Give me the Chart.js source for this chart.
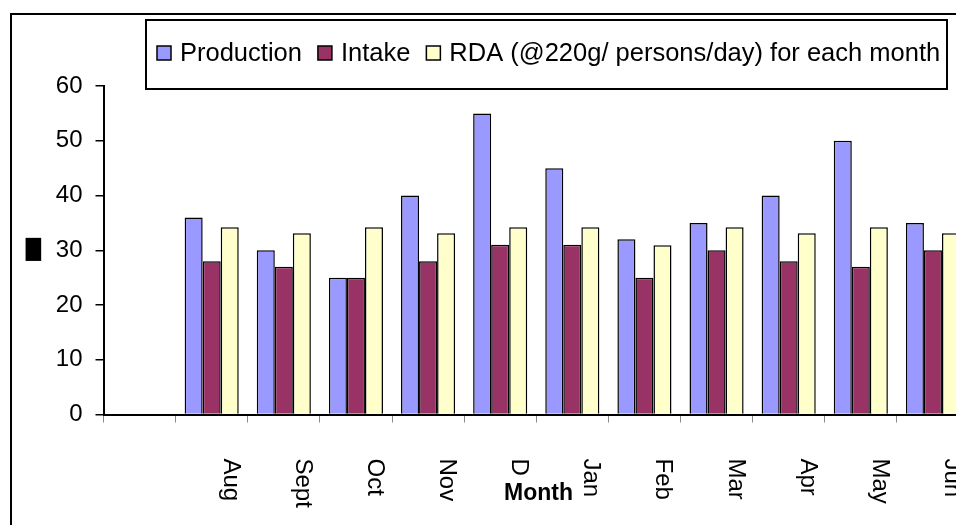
<!DOCTYPE html>
<html><head><meta charset="utf-8">
<script src="https://cdn.jsdelivr.net/npm/chart.js@4"></script>
<style>
html,body{margin:0;padding:0;overflow:hidden;background:#fff;width:956px;height:525px}
canvas{display:block}
</style></head>
<body><canvas id="c" width="1000" height="525"></canvas>
<script>
const categories = ['', 'Aug', 'Sept', 'Oct', 'Nov', 'Dec', 'Jan', 'Feb', 'Mar', 'Apr', 'May', 'Jun'];
const production = [null, 36, 30, 25, 40, 55, 45, 32, 35, 40, 50, 35];
const intake     = [null, 28, 27, 25, 28, 31, 31, 25, 30, 28, 27, 30];
const rda        = [null, 34.2, 33.1, 34.2, 33.1, 34.2, 34.2, 30.9, 34.2, 33.1, 34.2, 33.1];
const seriesNames = ['Production', 'Intake', 'RDA (@220g/ persons/day) for each month'];
const yTicks = [0, 10, 20, 30, 40, 50, 60];
const xTitle = 'Month';
const yTitle = '\u2588';

const FONT = "'Liberation Sans', Arial, sans-serif";

const decorPlugin = {
  id: 'decor',
  afterDraw(chart) {
    const ctx = chart.ctx;
    const xs = chart.scales.x;
    ctx.save();
    // outer frame
    ctx.strokeStyle = '#000';
    ctx.lineWidth = 2;
    ctx.strokeRect(11, 14, 1100, 600);

    // legend box
    ctx.strokeRect(146, 20, 801, 69);
    ctx.font = '25.5px ' + FONT;
    ctx.textBaseline = 'alphabetic';
    ctx.textAlign = 'left';
    let x = 157;
    chart.data.datasets.forEach(ds => {
      ctx.fillStyle = ds.backgroundColor;
      ctx.fillRect(x, 46, 14, 14);
      ctx.lineWidth = 1.5;
      ctx.strokeStyle = '#000';
      ctx.strokeRect(x, 46, 14, 14);
      ctx.fillStyle = '#000';
      ctx.fillText(ds.label, x + 23, 60.5);
      x += 23 + ctx.measureText(ds.label).width + 16;
    });

    // y-axis title (block glyph)
    ctx.font = '30px DejaVu Sans';
    const m = ctx.measureText(yTitle);
    const gw = m.actualBoundingBoxLeft + m.actualBoundingBoxRight;
    const gh = m.actualBoundingBoxAscent + m.actualBoundingBoxDescent;
    ctx.save();
    ctx.translate(25, 237.5);
    ctx.scale(16.5 / gw, 24 / gh);
    ctx.fillStyle = '#000';
    ctx.fillText(yTitle, m.actualBoundingBoxLeft, m.actualBoundingBoxAscent);
    ctx.restore();

    // x tick labels, rotated clockwise
    ctx.font = '24px ' + FONT;
    ctx.fillStyle = '#000';
    categories.forEach((lab, i) => {
      if (!lab) return;
      const px = xs.getPixelForTick(i);
      ctx.save();
      ctx.translate(px + 12, 458.5);
      ctx.rotate(Math.PI / 2);
      ctx.textAlign = 'left';
      ctx.textBaseline = 'alphabetic';
      ctx.fillText(lab, 0, 0);
      ctx.restore();
    });

    // x axis title with white background
    ctx.font = 'bold 23px ' + FONT;
    const tw = ctx.measureText(xTitle).width;
    const cx = 538.5;
    ctx.fillStyle = '#fff';
    ctx.fillRect(cx - tw / 2 - 8, 476, tw + 16, 30);
    ctx.fillStyle = '#000';
    ctx.textAlign = 'center';
    ctx.textBaseline = 'alphabetic';
    ctx.fillText(xTitle, cx, 499.5);
    ctx.restore();
  }
};

const barCommon = { borderColor: '#000', borderWidth: 1.5, categoryPercentage: 0.75, barPercentage: 1.0 };

new Chart(document.getElementById('c'), {
  type: 'bar',
  data: {
    labels: categories,
    datasets: [
      Object.assign({ label: seriesNames[0], data: production, backgroundColor: '#9999FF' }, barCommon),
      Object.assign({ label: seriesNames[1], data: intake, backgroundColor: '#993366' }, barCommon),
      Object.assign({ label: seriesNames[2], data: rda, backgroundColor: '#FFFFCC' }, barCommon)
    ]
  },
  options: {
    responsive: false,
    animation: false,
    devicePixelRatio: 1,
    layout: { padding: { top: 86, left: 0, right: 31, bottom: 0 } },
    plugins: { legend: { display: false }, tooltip: { enabled: false } },
    scales: {
      x: {
        afterFit(s) { s.height = 110.5; },
        grid: { drawOnChartArea: false, drawTicks: true, tickLength: 8, color: '#8a8a8a', lineWidth: 1 },
        border: { display: true, color: '#000', width: 2 },
        ticks: { display: false }
      },
      y: {
        min: yTicks[0], max: yTicks[yTicks.length - 1],
        afterFit(s) { s.width = 103.5; },
        grid: { drawOnChartArea: false, drawTicks: true, tickLength: 8, color: '#000', lineWidth: 1.5 },
        border: { display: true, color: '#000', width: 2 },
        ticks: { stepSize: yTicks[1] - yTicks[0], padding: 13, color: '#000', font: { family: FONT, size: 24 } }
      }
    }
  },
  plugins: [decorPlugin]
});
</script>
</body></html>
